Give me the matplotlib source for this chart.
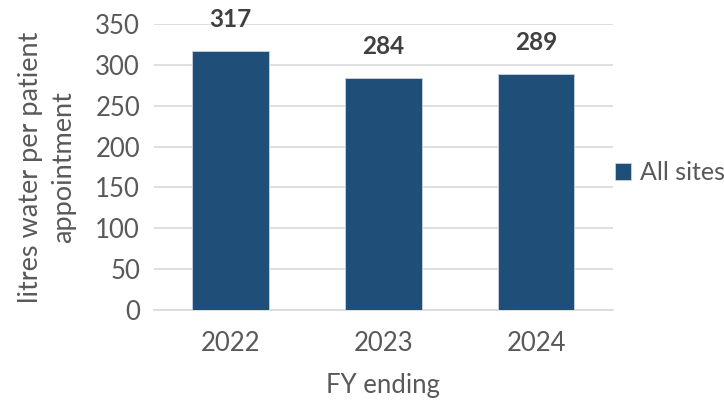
import numpy as np
import matplotlib
matplotlib.use("Agg")
import matplotlib.pyplot as plt

plt.rcParams['font.family'] = ['Lato', 'DejaVu Sans']

# data
years = ["2022", "2023", "2024"]
litres = [317, 284, 289]
series_name = "All sites"

bar_color = "#1F4E79"
text_color = "#595959"
grid_color = "#D9D9D9"

fig = plt.figure(figsize=(7.24, 4), dpi=100)
ax = fig.add_axes([0.2127, 0.225, 0.6336, 0.715])

x = np.arange(len(years))
bars = ax.bar(x, litres, width=0.5, color=bar_color, edgecolor="#C9D3DE",
              linewidth=0.6, label=series_name, zorder=3)

for xi, v in zip(x, litres):
    ax.annotate(str(v), (xi, v), xytext=(0, 17), textcoords="offset points",
                ha="center", va="baseline", fontsize=17.5, fontweight="bold",
                color="#404040")

ax.set_xlim(-0.5, 2.5)
ax.set_ylim(0, 350)
ax.set_yticks(range(0, 351, 50))
ax.set_xticks(x)
ax.set_xticklabels(years)
ax.yaxis.grid(True, color=grid_color, linewidth=1.2, zorder=0)
ax.set_axisbelow(True)
for s in ["top", "right", "left"]:
    ax.spines[s].set_visible(False)
ax.spines["bottom"].set_color(grid_color)
ax.spines["bottom"].set_linewidth(1.2)
ax.tick_params(axis="both", length=0, labelsize=18.5, colors=text_color)
ax.tick_params(axis="x", pad=15)
ax.tick_params(axis="y", pad=10)

ax.set_xlabel("FY ending", fontsize=18.5, color=text_color, labelpad=12)
ax.set_ylabel("litres water per patient\nappointment", fontsize=19.5,
              color=text_color, labelpad=14, linespacing=1.4)

leg = ax.legend(loc="center left", bbox_to_anchor=(1.005, 0.48), frameon=False,
                fontsize=18, handlelength=0.65, handleheight=0.65,
                handletextpad=0.35, borderpad=0, borderaxespad=0,
                labelcolor=text_color)

fig.savefig("out.png", dpi=100)
